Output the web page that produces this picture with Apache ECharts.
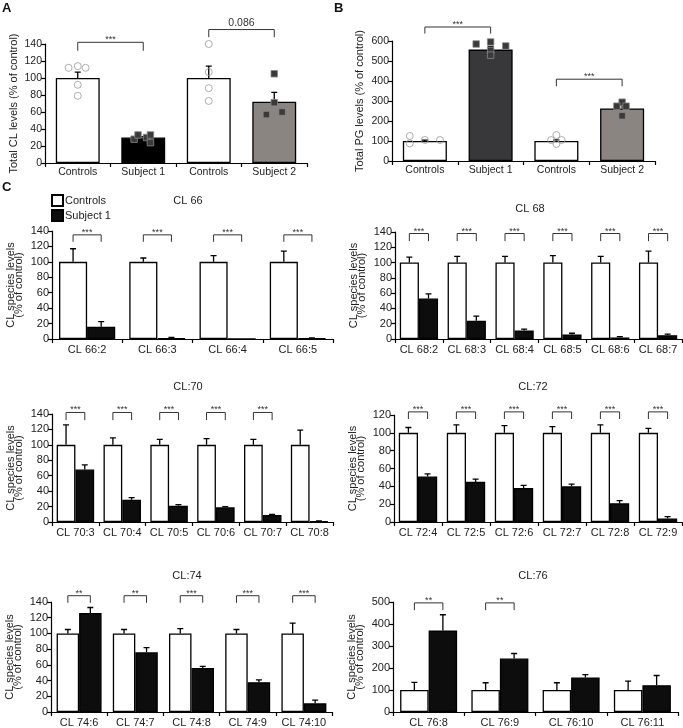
<!DOCTYPE html>
<html><head><meta charset="utf-8">
<script src="https://cdn.jsdelivr.net/npm/echarts@6/dist/echarts.min.js"></script>
<style>html,body{margin:0;padding:0;background:#fff}#c{width:683px;height:728px}</style>
</head><body><div id="c"></div>
<script>
// ================= DATA =================
// Panel A: total CL levels
const aCategories = ['Controls', 'Subject 1', 'Controls', 'Subject 2'];
const aMeans = [100, 30, 100, 72];
const aErrTop = [107, 31, 114, 83];
const aPoints = [[112, 114, 112, 92, 79], [28, 33, 30, 33, 24], [140, 107, 88, 73], [105, 71, 57, 60]];
const aSigPairs = [[0, 1], [2, 3]];
const aSigLabels = ['***', '0.086'];
const aSigTop = [142, 157];
const aSigLeg = [132, 148];

// Panel B: total PG levels
const bCategories = ['Controls', 'Subject 1', 'Controls', 'Subject 2'];
const bMeans = [100, 557, 100, 263];
const bErrTop = [104, 572, 105, 278];
const bPoints = [[125, 88, 105, 105], [585, 595, 575, 553, 529], [130, 105, 105, 85], [294, 274, 274, 226]];
const bSigPairs = [[0, 1], [2, 3]];
const bSigLabels = ['***', '***'];
const bSigTop = [670, 409];
const bSigLeg = [637, 374];

// Panel C: CL species
const c66Cats = ['CL 66:2', 'CL 66:3', 'CL 66:4', 'CL 66:5'];
const c66Ctrl = [100, 100, 100, 100];
const c66CtrlErr = [117, 105, 108, 114];
const c66Subj = [16, 1, 0, 1];
const c66SubjErr = [22.5, 2, 0, 1.5];
const c66Sig = ['***', '***', '***', '***'];

const c68Cats = ['CL 68:2', 'CL 68:3', 'CL 68:4', 'CL 68:5', 'CL 68:6', 'CL 68:7'];
const c68Ctrl = [100, 100, 100, 100, 100, 100];
const c68CtrlErr = [107, 108, 108, 109, 108, 115];
const c68Subj = [53, 24, 11, 6, 2, 5];
const c68SubjErr = [59, 30, 13, 7.5, 3, 6.5];
const c68Sig = ['***', '***', '***', '***', '***', '***'];

const c70Cats = ['CL 70:3', 'CL 70:4', 'CL 70:5', 'CL 70:6', 'CL 70:7', 'CL 70:8'];
const c70Ctrl = [100, 100, 100, 100, 100, 100];
const c70CtrlErr = [126, 109, 107, 108, 107, 119];
const c70Subj = [68, 29, 21, 19, 9, 1];
const c70SubjErr = [74, 31.5, 22.5, 20, 10, 1.5];
const c70Sig = ['***', '***', '***', '***', '***', ''];

const c72Cats = ['CL 72:4', 'CL 72:5', 'CL 72:6', 'CL 72:7', 'CL 72:8', 'CL 72:9'];
const c72Ctrl = [100, 100, 100, 100, 100, 100];
const c72CtrlErr = [106, 109, 108, 107, 109, 105];
const c72Subj = [51, 45, 38, 40, 21, 4];
const c72SubjErr = [54, 48, 41, 42.5, 24, 6];
const c72Sig = ['***', '***', '***', '***', '***', '***'];

const c74Cats = ['CL 74:6', 'CL 74:7', 'CL 74:8', 'CL 74:9', 'CL 74:10'];
const c74Ctrl = [100, 100, 100, 100, 100];
const c74CtrlErr = [105, 105, 106, 105, 113];
const c74Subj = [126, 76, 56, 38, 11];
const c74SubjErr = [133, 82, 58, 41, 15];
const c74Sig = ['**', '**', '***', '***', '***'];

const c76Cats = ['CL 76:8', 'CL 76:9', 'CL 76:10', 'CL 76:11'];
const c76Ctrl = [100, 100, 100, 100];
const c76CtrlErr = [135, 133, 133, 140];
const c76Subj = [370, 243, 157, 122];
const c76SubjErr = [442, 266, 170, 166];
const c76Sig = ['**', '**', '', ''];

// ================= STYLE / LAYOUT =================
const FONT = 'Liberation Sans, Arial, Helvetica, sans-serif';
const TXT = '#222';
const aJitter = [[-0.14, 0, 0.12, 0, 0], [-0.14, -0.08, 0.05, 0.11, 0.11], [0, 0, 0, 0], [0, 0, -0.12, 0.12]];
const bJitter = [[-0.23, -0.23, 0, 0.23], [-0.22, 0, 0.23, 0, 0], [0, -0.08, 0.08, 0], [0, -0.08, 0.06, 0]];
const BAR_FRAC = 0.4;

const option = {
  animation: false,
  backgroundColor: '#fff',
  textStyle: { fontFamily: FONT },
  grid: [], xAxis: [], yAxis: [], series: [], title: []
};

function errRender(params, api) {
  const x = api.value(0), m = api.value(1), t = api.value(2);
  if (!(t > m)) return null;
  const p0 = api.coord([x, m]), p1 = api.coord([x, t]);
  const cap = 3;
  return { type: 'polyline',
    shape: { points: [[p0[0], p0[1]], [p1[0], p1[1]], [p1[0] - cap, p1[1]], [p1[0] + cap, p1[1]]] },
    style: { stroke: '#000', lineWidth: 1.3, fill: null } };
}

function sigLineRender(params, api) {
  const x1 = api.value(0), x2 = api.value(1), top = api.value(2), leg = api.value(3);
  const a = api.coord([x1, leg]), b = api.coord([x1, top]), c = api.coord([x2, top]), d = api.coord([x2, leg]);
  return { type: 'polyline',
    shape: { points: [[a[0], a[1]], [b[0], b[1]], [c[0], c[1]], [d[0], d[1]]] },
    style: { stroke: '#333', lineWidth: 1, fill: null } };
}

function makeSigTextRender(labels, fs) {
  return function (params, api) {
    const lab = labels[params.dataIndex];
    const x = api.value(0), top = api.value(1);
    const p = api.coord([x, top]);
    const star = lab.indexOf('*') >= 0;
    return { type: 'text', x: p[0], y: p[1] + (star ? 2 : -1),
      style: { text: lab, fontSize: star ? 9 : fs, fontFamily: FONT, fill: '#333', align: 'center', verticalAlign: 'bottom' } };
  };
}

function addAxes(cfg) {
  const g = option.grid.length;
  option.grid.push({ left: cfg.left, top: cfg.top, width: cfg.width, height: cfg.height });
  const xi = option.xAxis.length;
  option.xAxis.push({
    type: 'category', gridIndex: g, data: cfg.cats,
    axisLine: { onZero: false, lineStyle: { color: '#000', width: 1.2 } },
    axisTick: { show: true, length: 4, lineStyle: { color: '#000', width: 1.2 } },
    axisLabel: { color: TXT, fontSize: cfg.fs, margin: cfg.labelMargin, fontFamily: FONT, interval: 0 }
  });
  option.xAxis.push({ type: 'value', gridIndex: g, min: -0.5, max: cfg.cats.length - 0.5, show: false,
    axisLine: { show: false, onZero: false }, axisTick: { show: false }, axisLabel: { show: false }, splitLine: { show: false } });
  option.yAxis.push({
    type: 'value', gridIndex: g, min: 0, max: cfg.max, interval: cfg.interval,
    name: cfg.yName, nameLocation: 'middle', nameGap: cfg.nameGap,
    nameTextStyle: { color: TXT, fontSize: cfg.nameFs, lineHeight: cfg.nameLH, fontFamily: FONT },
    axisLine: { show: true, onZero: false, lineStyle: { color: '#000', width: 1.2 } },
    axisTick: { show: true, length: 4, lineStyle: { color: '#000', width: 1.2 } },
    splitLine: { show: false },
    axisLabel: { color: TXT, fontSize: cfg.fs, margin: 3, fontFamily: FONT }
  });
  return { g: g, xc: xi, xv: xi + 1 };
}

function addSig(ax, pairsX, tops, legs, labels, fs) {
  const lineData = [], textData = [], textLabels = [];
  pairsX.forEach((p, i) => {
    if (!labels[i]) return;
    lineData.push([p[0], p[1], tops[i], legs[i]]);
    textData.push([(p[0] + p[1]) / 2, tops[i]]);
    textLabels.push(labels[i]);
  });
  option.series.push({
    type: 'custom', xAxisIndex: ax.xv, yAxisIndex: ax.g, z: 5, clip: false, silent: true,
    dimensions: ['x1', 'x2', 'top', 'leg'], encode: { x: [0, 1], y: [2, 3] },
    renderItem: sigLineRender, data: lineData
  });
  option.series.push({
    type: 'custom', xAxisIndex: ax.xv, yAxisIndex: ax.g, z: 5, clip: false, silent: true,
    dimensions: ['x', 'top'], encode: { x: 0, y: 1 },
    renderItem: makeSigTextRender(textLabels, fs), data: textData
  });
}

function addErr(ax, data) {
  option.series.push({
    type: 'custom', xAxisIndex: ax.xv, yAxisIndex: ax.g, z: 3, clip: false, silent: true,
    dimensions: ['x', 'mean', 'top'], encode: { x: 0, y: [1, 2] },
    renderItem: errRender, data: data
  });
}

function addTotalPanel(cfg) {
  const ax = addAxes(cfg);
  option.series.push({
    type: 'bar', name: cfg.id + ' bars', xAxisIndex: ax.xc, yAxisIndex: ax.g,
    barWidth: '67%', z: 2,
    data: cfg.means.map((v, i) => ({ value: v, itemStyle: { color: cfg.colors[i], borderColor: '#000', borderWidth: 1.3 } }))
  });
  addErr(ax, cfg.means.map((m, i) => [i, m, cfg.err[i]]));
  cfg.points.forEach((vals, gi) => {
    const circle = gi % 2 === 0;
    option.series.push({
      type: 'scatter', name: cfg.id + ' pts' + gi, xAxisIndex: ax.xv, yAxisIndex: ax.g, z: 4,
      symbol: circle ? 'circle' : 'rect', symbolSize: circle ? 7 : 6.5,
      itemStyle: circle ? { color: 'rgba(255,255,255,0)', borderColor: '#9a9a9a', borderWidth: 1 }
                        : { color: '#3a3a3a', borderColor: '#8a8a8a', borderWidth: 0.8, opacity: 1 },
      data: vals.map((v, k) => [gi + cfg.jitter[gi][k], v])
    });
  });
  addSig(ax, cfg.sigPairs, cfg.sigTop, cfg.sigLeg, cfg.sigLabels, 10.5);
}

function addSpeciesPanel(cfg) {
  const ax = addAxes(Object.assign({ fs: 11, labelMargin: 5, nameFs: 11, nameLH: 8,
    yName: 'CL species levels\n(% of control)', nameGap: 29 }, cfg));
  const bw = (BAR_FRAC * 100) + '%';
  option.series.push({
    type: 'bar', name: 'Controls', xAxisIndex: ax.xc, yAxisIndex: ax.g, barWidth: bw, barGap: '0%', z: 2,
    itemStyle: { color: '#fff', borderColor: '#000', borderWidth: 1.3 }, data: cfg.ctrl
  });
  option.series.push({
    type: 'bar', name: 'Subject 1', xAxisIndex: ax.xc, yAxisIndex: ax.g, barWidth: bw, barGap: '0%', z: 2,
    itemStyle: { color: '#0d0d0d', borderColor: '#000', borderWidth: 1.3 }, data: cfg.subj
  });
  const off = BAR_FRAC / 2;
  const errData = [];
  cfg.ctrl.forEach((m, i) => errData.push([i - off, m, cfg.ctrlErr[i]]));
  cfg.subj.forEach((m, i) => errData.push([i + off, m, cfg.subjErr[i]]));
  addErr(ax, errData);
  addSig(ax, cfg.cats.map((c, i) => [i - off, i + off]),
    cfg.cats.map(() => cfg.sigY[0]), cfg.cats.map(() => cfg.sigY[1]), cfg.sig, 9);
  option.title.push({ text: cfg.title, left: cfg.titleX, top: cfg.titleY - 6, textAlign: 'center', padding: 0,
    textStyle: { fontSize: 11, fontWeight: 'normal', color: TXT, fontFamily: FONT } });
}

addTotalPanel({ id: 'A', cats: aCategories, means: aMeans, err: aErrTop, points: aPoints, jitter: aJitter,
  sigPairs: aSigPairs, sigLabels: aSigLabels, sigTop: aSigTop, sigLeg: aSigLeg,
  colors: ['#fff', '#000', '#fff', '#8b8581'],
  left: 45, top: 44, width: 262, height: 119, max: 140, interval: 20, fs: 10.5, labelMargin: 4,
  yName: 'Total CL levels (% of control)', nameGap: 25, nameFs: 11, nameLH: 13 });

addTotalPanel({ id: 'B', cats: bCategories, means: bMeans, err: bErrTop, points: bPoints, jitter: bJitter,
  sigPairs: bSigPairs, sigLabels: bSigLabels, sigTop: bSigTop, sigLeg: bSigLeg,
  colors: ['#fff', '#38383a', '#fff', '#8b8581'],
  left: 392, top: 41, width: 263, height: 120, max: 600, interval: 100, fs: 10.5, labelMargin: 4,
  yName: 'Total PG levels (% of control)', nameGap: 26, nameFs: 11, nameLH: 13 });

addSpeciesPanel({ cats: c66Cats, ctrl: c66Ctrl, ctrlErr: c66CtrlErr, subj: c66Subj, subjErr: c66SubjErr, sig: c66Sig,
  sigY: [135, 126], max: 140, interval: 20, left: 52, top: 231, width: 281, height: 108, title: 'CL 66', titleX: 188, titleY: 201 });
addSpeciesPanel({ cats: c68Cats, ctrl: c68Ctrl, ctrlErr: c68CtrlErr, subj: c68Subj, subjErr: c68SubjErr, sig: c68Sig,
  sigY: [138, 128], max: 140, interval: 20, left: 395, top: 232, width: 287, height: 107, title: 'CL 68', titleX: 530, titleY: 209 });
addSpeciesPanel({ cats: c70Cats, ctrl: c70Ctrl, ctrlErr: c70CtrlErr, subj: c70Subj, subjErr: c70SubjErr, sig: c70Sig,
  sigY: [142, 132], max: 140, interval: 20, left: 52, top: 414, width: 281, height: 108, title: 'CL:70', titleX: 188, titleY: 387 });
addSpeciesPanel({ cats: c72Cats, ctrl: c72Ctrl, ctrlErr: c72CtrlErr, subj: c72Subj, subjErr: c72SubjErr, sig: c72Sig,
  sigY: [123.5, 115.5], max: 120, interval: 20, left: 394, top: 415, width: 288, height: 107, title: 'CL:72', titleX: 533, titleY: 387 });
addSpeciesPanel({ cats: c74Cats, ctrl: c74Ctrl, ctrlErr: c74CtrlErr, subj: c74Subj, subjErr: c74SubjErr, sig: c74Sig,
  sigY: [148, 139], max: 140, interval: 20, left: 51, top: 602, width: 281, height: 112, title: 'CL:74', titleX: 187, titleY: 576 });
addSpeciesPanel({ cats: c76Cats, ctrl: c76Ctrl, ctrlErr: c76CtrlErr, subj: c76Subj, subjErr: c76SubjErr, sig: c76Sig,
  sigY: [496, 463], max: 500, interval: 100, left: 393, top: 602, width: 285, height: 112, title: 'CL:76', titleX: 533, titleY: 576 });

// panel letters
[['A', 2, 2], ['B', 334, 2], ['C', 2, 181]].forEach(p => option.title.push({
  text: p[0], left: p[1], top: p[2], padding: 0,
  textStyle: { fontSize: 13, fontWeight: 'bold', color: '#111', fontFamily: FONT }
}));

option.legend = {
  data: ['Controls', 'Subject 1'], orient: 'vertical', left: 51, top: 194, padding: 0,
  itemWidth: 11, itemHeight: 11, itemGap: 2, icon: 'rect', selectedMode: false,
  textStyle: { fontSize: 11, color: TXT, fontFamily: FONT, padding: [0, 0, 0, -3] }
};

const chart = echarts.init(document.getElementById('c'), null, { renderer: 'canvas' });
chart.setOption(option);
</script></body></html>
